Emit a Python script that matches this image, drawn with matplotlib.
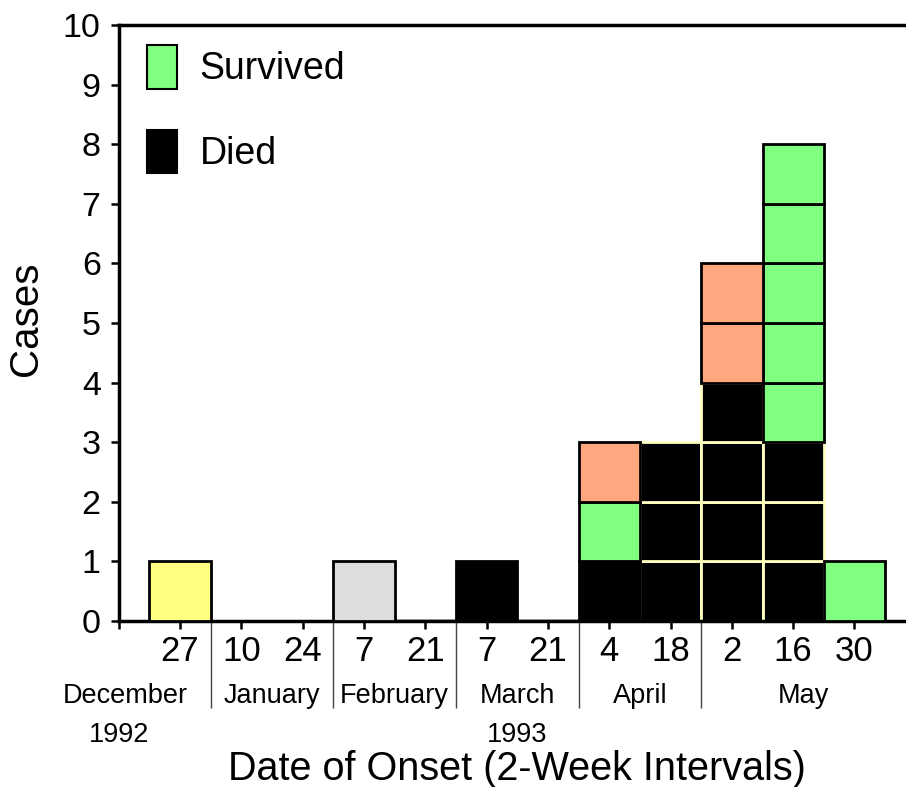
"""Epidemic curve: cases by date of onset, 2-week intervals."""

import matplotlib

matplotlib.use("Agg")
import matplotlib.pyplot as plt
import numpy as np
from matplotlib.patches import Patch

plt.rcParams["font.family"] = ["Liberation Sans", "DejaVu Sans"]

# one column per 2-week interval
day_labels = ["27", "10", "24", "7", "21", "7", "21", "4", "18", "2", "16", "30"]
month_of_col = [
    "December", "January", "January", "February", "February", "March",
    "March", "April", "April", "May", "May", "May",
]
months = ["December", "January", "February", "March", "April", "May"]
years = ["1992", "1993"]
year_month = ["December", "March"]

died = [0, 0, 0, 0, 0, 1, 0, 1, 3, 4, 3, 0]
survived = [0, 0, 0, 0, 0, 0, 0, 1, 0, 0, 5, 1]
group_orange = [0, 0, 0, 0, 0, 0, 0, 1, 0, 2, 0, 0]
group_yellow = [1, 0, 0, 0, 0, 0, 0, 0, 0, 0, 0, 0]
group_gray = [0, 0, 0, 1, 0, 0, 0, 0, 0, 0, 0, 0]
# intervals drawn as an empty (zero-height) box in the original
empty_box = [False, False, False, False, True, False, True,
             False, False, False, False, False]

GREEN = "#80FF80"
ORANGE = "#FFA880"
YELLOW = "#FFFF80"
GRAY = "#DDDDDD"
LIGHT_EDGE = "#FFFFC0"

fig = plt.figure(figsize=(9.06, 7.87), dpi=100)
ax = fig.add_axes([0.131, 0.2109, 0.869, 0.7573])

x = np.arange(1, len(day_labels) + 1)
# died boxes in the busy weeks carry a pale outline in the original
light_cols = {8, 9, 10}

layers = [
    (died, "black"),
    (survived, GREEN),
    (group_orange, ORANGE),
    (group_yellow, YELLOW),
    (group_gray, GRAY),
]
bottom = np.zeros(len(x))
for counts, color in layers:
    for i, n in enumerate(counts):
        for k in range(n):
            light = color == "black" and i in light_cols
            ax.bar(
                x[i], 1, bottom=bottom[i] + k, width=1.0,
                color=color,
                edgecolor=LIGHT_EDGE if light else "black",
                linewidth=2,
                zorder=2 if light else 3,
            )
        bottom[i] += n

for i, flag in enumerate(empty_box):
    if flag:
        ax.bar(x[i], 0, width=1.0, color="none", edgecolor="black",
               linewidth=2.5, zorder=3)

ax.set_xlim(0, 12.84)
ax.set_ylim(0, 10)
ax.set_yticks(range(0, 11))
ax.set_xticks(np.arange(0, 13))
ax.set_xticklabels([""] + day_labels)
ax.tick_params(axis="y", labelsize=24.5, length=6, width=1.8, pad=7)
ax.tick_params(axis="x", labelsize=25, length=6, width=1.8, pad=4)
for side in ["left", "bottom", "top"]:
    ax.spines[side].set_linewidth(2.5)
ax.spines["right"].set_visible(False)

# month separators and month labels below the day ticks
trans = ax.get_xaxis_transform()
bounds = [-1.3]
for i in range(1, len(month_of_col)):
    if month_of_col[i] != month_of_col[i - 1]:
        bounds.append((x[i - 1] + x[i]) / 2)
bounds.append(12.84)
ax.vlines(bounds[1:-1], -0.146, 0, transform=trans, colors="#444444",
          linewidth=1, clip_on=False)
centers = {}
for m, lo, hi in zip(months, bounds[:-1], bounds[1:]):
    centers[m] = (lo + hi) / 2
    ax.text(centers[m], -0.1376, m, transform=trans, ha="center",
            va="baseline", fontsize=19.5)
for yr, m in zip(years, year_month):
    ax.text(centers[m] - (0.1 if m == "December" else 0), -0.203, yr,
            transform=trans, ha="center", va="baseline", fontsize=19.5)

ax.text(6.5, -0.267, "Date of Onset (2-Week Intervals)", transform=trans,
        ha="center", va="baseline", fontsize=28.5)
ax.text(-0.1418, 0.508, "Cases", transform=ax.transAxes, rotation=90,
        ha="left", va="center", fontsize=29)

handles = [
    Patch(facecolor=GREEN, edgecolor="black", linewidth=1.5),
    Patch(facecolor="black", edgecolor="black", linewidth=1.5),
]
ax.legend(
    handles, ["Survived", "Died"], loc="upper left",
    bbox_to_anchor=(0.036, 0.966), frameon=False, fontsize=27,
    handlelength=0.8, handleheight=1.4, handletextpad=0.6,
    labelspacing=1.1, borderpad=0, borderaxespad=0,
)

fig.savefig("out.png", dpi=100)
